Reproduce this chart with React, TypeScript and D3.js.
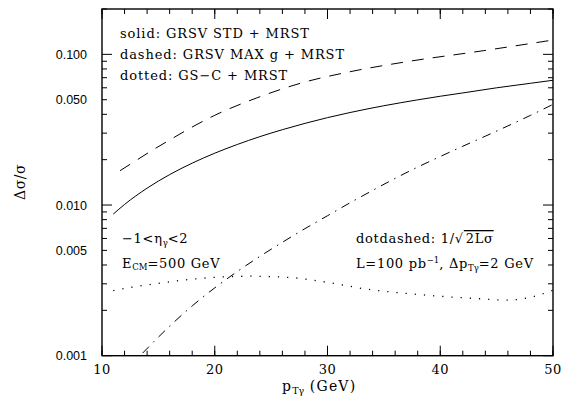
import * as d3 from "d3";
import { useEffect, useRef } from "react";

// pT grid and curves
const ptSolid = [11, 12, 14, 16, 18, 20, 22, 24, 26, 28, 30, 32, 35, 38, 40, 42, 45, 48, 50];
const solid = [0.00871, 0.01009, 0.01294, 0.01592, 0.01897, 0.02208, 0.02523, 0.02844, 0.03162, 0.03483, 0.03802, 0.04111, 0.0456, 0.04989, 0.05272, 0.05546, 0.05998, 0.06427, 0.0673];

const ptDashed = [11.6, 13, 14.5, 16, 17.5, 20, 23.7, 27.6, 32, 37, 43.8, 50];
const dashed = [0.0169, 0.0197, 0.0232, 0.027, 0.0314, 0.0394, 0.0513, 0.0643, 0.0767, 0.0893, 0.1057, 0.1245];

const ptDotted = [11, 13, 15, 17, 19, 21, 23, 25, 27, 29, 31, 33, 35, 37, 40, 43, 46, 48, 50];
const dotted = [0.0027, 0.00288, 0.00302, 0.00316, 0.00327, 0.00334, 0.00337, 0.00335, 0.00329, 0.00315, 0.00298, 0.0028, 0.00268, 0.00259, 0.00248, 0.0024, 0.00234, 0.00244, 0.00272];

const ptDotDash = [13.6, 16, 18, 20, 22, 24, 26, 28, 30, 32, 34, 36, 38, 40, 42, 44, 46, 48, 50];
const dotDash = [0.00104, 0.00157, 0.00214, 0.00282, 0.00362, 0.00456, 0.00566, 0.00697, 0.00849, 0.01035, 0.0125, 0.01503, 0.01786, 0.02099, 0.02455, 0.02864, 0.0335, 0.03936, 0.04656];

const xMajor = [10, 20, 30, 40, 50];
const xMinor = d3.range(10, 51, 2);
const yMajor = [0.001, 0.01, 0.1];
const yMinor = [0.002, 0.003, 0.004, 0.005, 0.006, 0.007, 0.008, 0.009, 0.02, 0.03, 0.04, 0.05, 0.06, 0.07, 0.08, 0.09, 0.2];
const yLabels = [0.001, 0.005, 0.01, 0.05, 0.1];

const legendLines = ["solid: GRSV STD + MRST", "dashed: GRSV MAX g + MRST", "dotted: GS\u2212C + MRST"];

const serif = "'DejaVu Serif', serif";
const sans = "'Liberation Sans', Arial, sans-serif";

export default function App() {
  const gRef = useRef(null);

  const left = 102, right = 553, top = 9, bottom = 355.7;

  useEffect(() => {
    const x = d3.scaleLinear().domain([10, 50]).range([left, right]);
    const y = d3.scaleLog().domain([0.001, 0.2]).range([bottom, top]);

    const svg = d3.select(gRef.current);
    svg.selectAll("*").remove();

    const clip = svg.append("clipPath").attr("id", "plot");
    clip.append("rect").attr("x", left).attr("y", top).attr("width", right - left).attr("height", bottom - top);

    const g = svg.append("g").attr("clip-path", "url(#plot)");
    const line = (xs, ys) =>
      d3.line().x((d) => x(d[0])).y((d) => y(d[1])).curve(d3.curveMonotoneX)(xs.map((v, i) => [v, ys[i]]));

    const curves = [
      [ptSolid, solid, null],
      [ptDashed, dashed, "12,9"],
      [ptDotted, dotted, "1.2,8"],
      [ptDotDash, dotDash, "9,6,1.5,6"],
    ];
    curves.forEach(([xs, ys, dash]) => {
      g.append("path")
        .attr("d", line(xs, ys))
        .attr("fill", "none")
        .attr("stroke", "black")
        .attr("stroke-width", dash === "1.2,8" ? 1.3 : 1)
        .attr("stroke-dasharray", dash);
    });

    // inward ticks on all four sides
    const ticks = svg.append("g").attr("stroke", "black").attr("stroke-width", 1);
    const xt = (vals, len) => {
      vals.forEach((v) => {
        ticks.append("line").attr("x1", x(v)).attr("x2", x(v)).attr("y1", bottom).attr("y2", bottom - len);
        ticks.append("line").attr("x1", x(v)).attr("x2", x(v)).attr("y1", top).attr("y2", top + len);
      });
    };
    const yt = (vals, len) => {
      vals.forEach((v) => {
        ticks.append("line").attr("y1", y(v)).attr("y2", y(v)).attr("x1", left).attr("x2", left + len);
        ticks.append("line").attr("y1", y(v)).attr("y2", y(v)).attr("x1", right).attr("x2", right - len);
      });
    };
    xt(xMinor, 5);
    xt(xMajor, 10);
    yt(yMinor, 5);
    yt(yMajor, 10);

    svg.append("rect")
      .attr("x", left).attr("y", top)
      .attr("width", right - left).attr("height", bottom - top)
      .attr("fill", "none").attr("stroke", "black").attr("stroke-width", 1.4);

    svg.selectAll(".xl")
      .data(xMajor)
      .enter()
      .append("text")
      .attr("x", (d) => x(d))
      .attr("y", 374)
      .attr("text-anchor", "middle")
      .attr("font-family", serif)
      .attr("font-size", 13)
      .attr("letter-spacing", 0.5)
      .text((d) => d);

    svg.selectAll(".yl")
      .data(yLabels)
      .enter()
      .append("text")
      .attr("x", 87)
      .attr("y", (d) => y(d) + 4.5)
      .attr("text-anchor", "end")
      .attr("font-family", sans)
      .attr("font-size", 12.5)
      .text((d) => d3.format(".3f")(d));

    svg.selectAll(".leg")
      .data(legendLines)
      .enter()
      .append("text")
      .attr("x", 120)
      .attr("y", (d, i) => 38 + i * 21)
      .attr("font-family", serif)
      .attr("font-size", 13)
      .attr("letter-spacing", 0.9)
      .text((d) => d);
  }, []);

  const t = { fontFamily: serif, fontSize: 13, fill: "black", letterSpacing: 0.7 };
  const sub = { fontSize: 8.5, letterSpacing: 0 };

  return (
    <svg width={561} height={401} style={{ position: "absolute", left: 0, top: 0, background: "white" }}>
      <g ref={gRef} />
      <text x={122} y={243} style={t}>
        {"\u22121<\u03b7"}
        <tspan dy={3} style={sub}>{"\u03b3"}</tspan>
        <tspan dy={-3}>{"<2"}</tspan>
      </text>
      <text x={122} y={268} style={t}>
        E<tspan dy={2} style={sub}>CM</tspan>
        <tspan dy={-2}>=500 GeV</tspan>
      </text>
      <text x={356} y={243} style={t}>
        {"dotdashed: 1/\u221a"}
        <tspan style={{ textDecoration: "overline" }}>{"\u200a2L\u03c3"}</tspan>
      </text>
      <text x={356} y={268} style={t}>
        L=100 pb<tspan dy={-5} style={sub}>{"\u22121"}</tspan>
        <tspan dy={5}>{", \u0394p"}</tspan>
        <tspan dy={3} style={sub}>{"T\u03b3"}</tspan>
        <tspan dy={-3}>=2 GeV</tspan>
      </text>
      <text x={282} y={391} style={{ ...t, fontSize: 14, letterSpacing: 1.2 }}>
        p<tspan dy={3} style={{ fontSize: 9.5, letterSpacing: 0 }}>{"T\u03b3"}</tspan>
        <tspan dy={-3}> (GeV)</tspan>
      </text>
      <text
        transform="translate(25,182) rotate(-90)"
        textAnchor="middle"
        style={{ fontFamily: serif, fontSize: 14, letterSpacing: 0.5 }}
      >
        {"\u0394\u03c3/\u03c3"}
      </text>
    </svg>
  );
}
